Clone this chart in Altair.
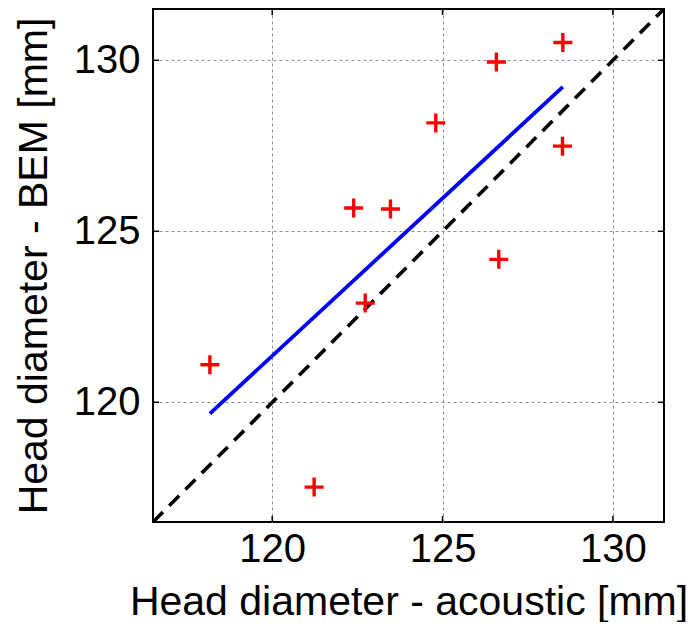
import altair as alt
import pandas as pd

# measured data
acoustic = [118.17, 121.23, 122.39, 122.73, 123.47, 124.80, 126.58, 126.65, 128.53, 128.52]
bem = [121.10, 117.52, 125.68, 122.90, 125.65, 128.17, 129.95, 124.18, 130.52, 127.49]

fit_x = [118.17, 128.53]
fit_y = [119.67, 129.22]

ident = [116.5, 131.5]
ticks = [120, 125, 130]

FONT = "Liberation Sans"

pts = pd.DataFrame({"x": acoustic, "y": bem})
fit = pd.DataFrame({"x": fit_x, "y": fit_y})
idl = pd.DataFrame({"x": ident, "y": ident})
tk = pd.DataFrame({"v": ticks})

xs = alt.Scale(domain=ident, nice=False, zero=False)
ys = alt.Scale(domain=ident, nice=False, zero=False)

xaxis = alt.Axis(values=ticks, grid=True, gridDash=[3, 3], gridColor="#8c8c8c", gridWidth=1,
                 ticks=False, domain=False, labelFontSize=40, labelFont=FONT, labelColor="black",
                 labelPadding=7, title="Head diameter - acoustic [mm]", titleFontSize=41,
                 titleFont=FONT, titleFontWeight="normal", titleColor="black", titlePadding=13)
yaxis = alt.Axis(values=ticks, grid=True, gridDash=[3, 3], gridColor="#8c8c8c", gridWidth=1,
                 ticks=False, domain=False, labelFontSize=40, labelFont=FONT, labelColor="black",
                 labelPadding=13, title="Head diameter - BEM [mm]", titleFontSize=41,
                 titleFont=FONT, titleFontWeight="normal", titleColor="black", titlePadding=18)

base_grid = alt.Chart(tk).mark_rule(opacity=0).encode(
    x=alt.X("v:Q", scale=xs, axis=xaxis),
    y=alt.Y("v:Q", scale=ys, axis=yaxis),
)

tl = alt.Chart(tk).mark_rule(color="black", strokeWidth=1.5).encode(
    y=alt.Y("v:Q", scale=ys), x=alt.value(0), x2=alt.value(6))
tr = alt.Chart(tk).mark_rule(color="black", strokeWidth=1.5).encode(
    y=alt.Y("v:Q", scale=ys), x=alt.value(505), x2=alt.value(511))
tb = alt.Chart(tk).mark_rule(color="black", strokeWidth=1.5).encode(
    x=alt.X("v:Q", scale=xs), y=alt.value(507), y2=alt.value(513))
tt = alt.Chart(tk).mark_rule(color="black", strokeWidth=1.5).encode(
    x=alt.X("v:Q", scale=xs), y=alt.value(0), y2=alt.value(6))

dash = alt.Chart(idl).mark_line(color="black", strokeWidth=3.6, strokeDash=[14, 9], clip=True).encode(
    x=alt.X("x:Q", scale=xs), y=alt.Y("y:Q", scale=ys))

fitline = alt.Chart(fit).mark_line(color="#0000ff", strokeWidth=3.8).encode(
    x=alt.X("x:Q", scale=xs), y=alt.Y("y:Q", scale=ys))

plus = alt.Chart(pts).mark_point(shape="M-1,0H1M0,-1V1", size=361, color="#ff0000",
                                 strokeWidth=3.4, filled=False, opacity=1).encode(
    x=alt.X("x:Q", scale=xs), y=alt.Y("y:Q", scale=ys))

chart = alt.layer(base_grid, dash, fitline, plus, tl, tr, tb, tt).properties(
    width=511, height=513,
    autosize=alt.AutoSizeParams(type="none"),
    padding={"left": 145, "top": 1, "right": 25, "bottom": 100},
    background="white",
).configure_view(stroke="black", strokeWidth=2)

chart.save("out.html", embed_options={"renderer": "svg", "actions": False})
